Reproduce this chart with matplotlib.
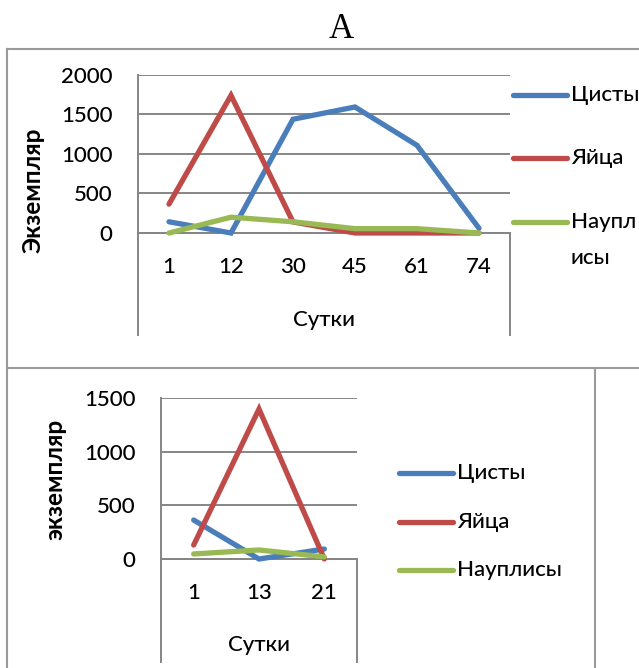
import matplotlib
matplotlib.use("Agg")
import matplotlib.pyplot as plt
from matplotlib.lines import Line2D

plt.rcParams['font.family'] = ['Lato', 'DejaVu Sans']
plt.rcParams['font.weight'] = 'medium'

W, H = 639, 668

# upper chart, 74 days of observation
days_a = ['1', '12', '30', '45', '61', '74']
cysts_a = [142, 0, 1440, 1595, 1110, 60]
eggs_a = [366, 1742, 140, 0, 0, 0]
nauplii_a = [0, 200, 142, 55, 55, 0]

# lower chart, 21 days of observation
days_b = ['1', '13', '21']
cysts_b = [363, 0, 93]
eggs_b = [130, 1397, 0]
nauplii_b = [47, 84, 20]

series_names = ['Цисты', 'Яйца', 'Науплисы']
colors = ['#4A7EBB', '#BE4B48', '#98B954']
GRID = '#868686'
BORDER = '#9a9a9a'
FS = 16


def fx(px):
    return px / W


def fy(py):
    return 1 - py / H


def add_chart(fig, left, top, right, bottom, zero_px, days, series, ymax):
    ax = fig.add_axes([fx(left), fy(bottom), (right - left) / W, (bottom - top) / H])
    x = list(range(len(days)))
    for vals, c in zip(series, colors):
        ax.plot(x, vals, color=c, lw=3.8, solid_capstyle='round',
                solid_joinstyle='miter', zorder=3)
    low = -ymax * (bottom - zero_px) / (zero_px - top)
    ax.set_ylim(low, ymax)
    ax.set_xlim(-0.5, len(days) - 0.5)
    ax.set_yticks(range(0, ymax + 1, 500))
    ax.set_xticks(x, days)
    ax.yaxis.grid(True, color=GRID, lw=1.4)
    ax.set_axisbelow(True)
    ax.spines['top'].set_visible(False)
    ax.spines['left'].set_color(GRID)
    ax.spines['left'].set_linewidth(1.4)
    ax.spines['right'].set_color(GRID)
    ax.spines['right'].set_linewidth(1.4)
    ax.spines['right'].set_bounds(low, 0)
    ax.spines['bottom'].set_position(('data', 0))
    ax.spines['bottom'].set_color(GRID)
    ax.spines['bottom'].set_linewidth(1.4)
    ax.tick_params(axis='y', length=0, pad=18.5, labelsize=FS)
    ax.tick_params(axis='x', length=0, pad=17.5, labelsize=FS)
    return ax


def add_legend(fig, x0, ys, labels, step=36):
    for y, lab, c in zip(ys, labels, colors):
        fig.add_artist(Line2D([fx(x0), fx(x0 + 54)], [fy(y), fy(y)], color=c,
                              lw=3.8, solid_capstyle='round'))
        for k, part in enumerate(lab.split('\n')):
            fig.text(fx(x0 + 58), fy(y + k * step), part, fontsize=FS,
                     ha='left', va='center')


fig = plt.figure(figsize=(W / 100, H / 100), dpi=100)

# panel frames
for xs, ys in [([7, 7], [49, 668]), ([7, 639], [49, 49]),
               ([7, 639], [368, 368]), ([595, 595], [368, 668])]:
    fig.add_artist(Line2D([fx(v) for v in xs], [fy(v) for v in ys],
                          color=BORDER, lw=1.5))

fig.text(fx(341), fy(29), 'A', fontsize=25, family='Liberation Serif',
         fontweight='normal', ha='center', va='center')

add_chart(fig, 138, 75, 510, 335, 233, days_a, [cysts_a, eggs_a, nauplii_a], 2000)
fig.text(fx(324), fy(320), 'Сутки', fontsize=FS, ha='center', va='center')
fig.text(fx(33), fy(190), 'Экземпляр', fontsize=17.5, fontweight='bold',
         rotation=90, ha='center', va='center')
add_legend(fig, 513, [95, 158, 222], ['Цисты', 'Яйца', 'Наупл\nисы'])

add_chart(fig, 161, 398, 357, 662, 559, days_b, [cysts_b, eggs_b, nauplii_b], 1500)
fig.text(fx(259), fy(645), 'Сутки', fontsize=FS, ha='center', va='center')
fig.text(fx(55), fy(479), 'экземпляр', fontsize=17.5, fontweight='bold',
         rotation=90, ha='center', va='center')
add_legend(fig, 399, [473, 522, 570], series_names)

fig.savefig('out.png', dpi=100)
